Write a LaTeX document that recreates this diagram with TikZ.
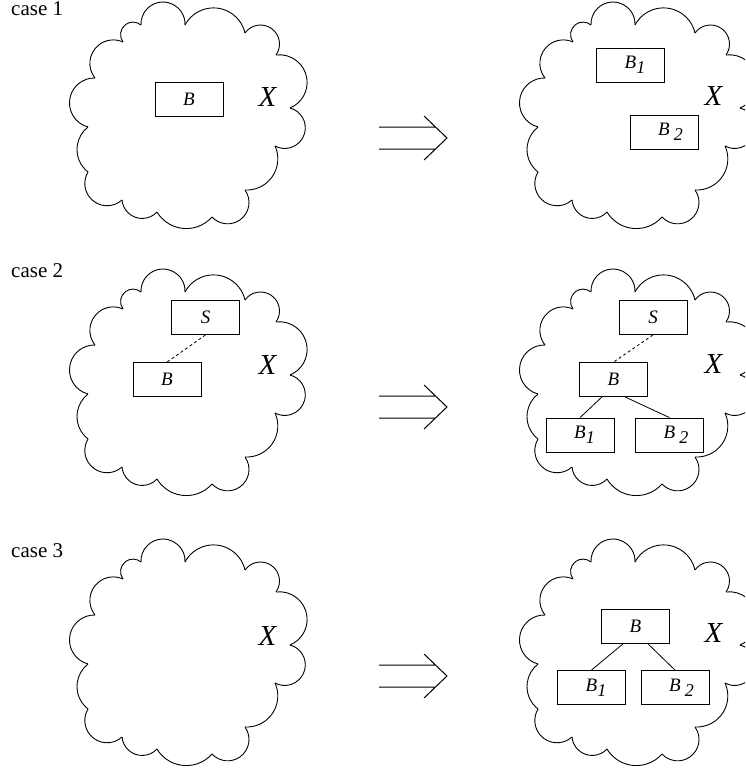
\documentclass[tikz,border=0pt]{standalone}
\usepackage{fontspec}
\setmainfont{Liberation Serif}
\usetikzlibrary{calc}

\tikzset{
  cloudline/.style={line width=0.9pt},
  box/.style={draw, line width=0.8pt, minimum width=68pt, minimum height=34pt,
    inner sep=0pt, font=\fontsize{19}{19}\selectfont\itshape},
  bigx/.style={font=\fontsize{29}{29}\selectfont\itshape, inner sep=0pt},
  caselabel/.style={font=\fontsize{21}{21}\selectfont, inner sep=0pt, anchor=base west},
  link/.style={line width=0.8pt},
  dashlink/.style={line width=0.8pt, dash pattern=on 3pt off 2.5pt},
  implies/.style={line width=1pt},
}

% Cloud outline: each lobe is a circular arc from cusp (px,py) to cusp (qx,qy)
% bulging outwards by the sagitta h (screen coordinates, y pointing down).
\newcommand\cloudlobes{141/25/185/25/23, 185/25/245/33/21, 245/33/276/55/19,
  276/55/290/108/24, 290/108/275/146/23, 275/146/245/190/15, 245/190/212/217/20,
  212/217/157/212/14, 157/212/122/200/12, 122/200/88/172/19, 88/172/88/127/11,
  88/127/95/78/22, 95/78/123/42/18, 123/42/141/25/11}

\newcommand\drawcloud[2]{%
  \begin{scope}[shift={(#1,#2)}]
    \foreach \px/\py/\qx/\qy/\h in \cloudlobes {
      \pgfmathsetmacro\lbC{veclen(\qx-\px,\qy-\py)}
      \pgfmathsetmacro\lbTx{(\qx-\px)/\lbC}
      \pgfmathsetmacro\lbTy{(\qy-\py)/\lbC}
      \pgfmathsetmacro\lbNx{\lbTy}
      \pgfmathsetmacro\lbNy{-\lbTx}
      \pgfmathsetmacro\lbR{(\lbC*\lbC/4+\h*\h)/(2*\h)}
      \pgfmathsetmacro\lbD{\lbR-\h}
      \pgfmathsetmacro\lbCx{(\px+\qx)/2-\lbD*\lbNx}
      \pgfmathsetmacro\lbCy{(\py+\qy)/2-\lbD*\lbNy}
      \pgfmathsetmacro\lbSa{-atan2(\py-\lbCy,\px-\lbCx)}
      \pgfmathsetmacro\lbDa{-2*acos(\lbD/\lbR)}
      \draw[cloudline] (\px,\py) arc[start angle=\lbSa, delta angle=\lbDa, radius=\lbR pt];
    }
  \end{scope}}

% Double "implies" arrow centred vertically at #1
\newcommand\rowarrow[1]{%
  \begin{scope}[shift={(0,#1)}]
    \draw[implies] (379,-11) -- (435.5,-11) (379,11) -- (435.5,11)
      (424,-22) -- (447,0) -- (424,22);
  \end{scope}}

% B with a subscript hanging to its right (kept out of the centring)
\newcommand\Bsub[2]{B\rlap{#1\raisebox{-5pt}{\fontsize{18}{18}\selectfont #2}}}

\begin{document}
\begin{tikzpicture}[x=1pt, y=-1pt]
\useasboundingbox (0,0) rectangle (745,769);
\clip (0,0) rectangle (745,769);

% clouds
\drawcloud{0}{0}
\drawcloud{450}{0}
\drawcloud{0}{267}
\drawcloud{450}{267}
\drawcloud{0}{537}
\drawcloud{450}{537}

% arrows between the two columns
\rowarrow{138}
\rowarrow{407}
\rowarrow{676}

% row labels
\node[caselabel] (c1) at (11,15) {case 1};
\node[caselabel] (c2) at (11,277) {case 2};
\node[caselabel] (c3) at (11,557) {case 3};

% the set X in every cloud
\node[bigx] (x1l) at (267.5,97) {X};
\node[bigx] (x1r) at (713.5,96) {X};
\node[bigx] (x2l) at (267.5,364.5) {X};
\node[bigx] (x2r) at (713.5,364) {X};
\node[bigx] (x3l) at (267.5,636) {X};
\node[bigx] (x3r) at (713.5,633) {X};

% case 1
\node[box] (b1) at (189,99) {B};
\node[box] (b1a) at (630.5,65) {\Bsub{}{1}};
\node[box] (b1b) at (664,132) {\Bsub{\hspace{4pt}}{2}};

% case 2
\node[box] (s2l) at (205.5,317.5) {S};
\node[box] (b2l) at (167,379.5) {B};
\draw[dashlink] (s2l.south) -- (b2l.north);

\node[box] (s2r) at (653,317.5) {S};
\node[box] (b2r) at (613.5,379.5) {B};
\node[box] (b2a) at (580,435) {\Bsub{}{1}};
\node[box] (b2b) at (669.5,435) {\Bsub{\hspace{4pt}}{2}};
\draw[dashlink] (s2r.south) -- (b2r.north);
\draw[link] ($(b2r.south)+(-11.5,0)$) -- (b2a.north);
\draw[link] ($(b2r.south)+(11.5,0)$) -- (b2b.north);

% case 3
\node[box] (b3) at (635.5,626) {B};
\node[box] (b3a) at (591.5,687.5) {\Bsub{}{1}};
\node[box] (b3b) at (675,687.5) {\Bsub{\hspace{4pt}}{2}};
\draw[link] ($(b3.south)+(-12,0)$) -- (b3a.north);
\draw[link] ($(b3.south)+(12,0)$) -- (b3b.north);
\end{tikzpicture}
\end{document}
